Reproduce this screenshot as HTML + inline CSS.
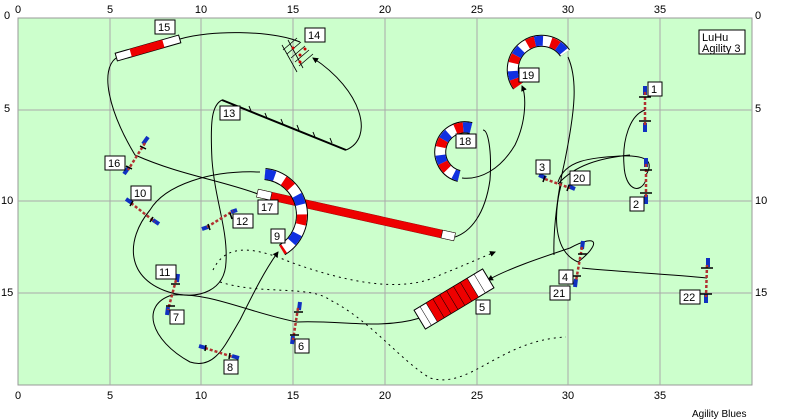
<!DOCTYPE html>
<html><head><meta charset="utf-8"><style>
body{margin:0;background:#fff;}
svg{display:block;font-family:"Liberation Sans",sans-serif;}
.lb rect{fill:#fff;stroke:#000;stroke-width:1}
.lb text{font-size:11px;fill:#000}
.ax{font-size:11px;fill:#000}
</style></head><body>
<svg width="800" height="419" viewBox="0 0 800 419">
<defs><marker id="ar" markerWidth="6" markerHeight="6" refX="5" refY="3" orient="auto"><path d="M0,0 L6,3 L0,6z" fill="#000"/></marker></defs>
<rect x="18" y="18" width="734" height="367" fill="#ccffcc" stroke="#999"/>
<g stroke="#aaa" stroke-width="1">
<line x1="110" y1="18" x2="110" y2="385"/><line x1="201" y1="18" x2="201" y2="385"/><line x1="293" y1="18" x2="293" y2="385"/><line x1="385" y1="18" x2="385" y2="385"/><line x1="477" y1="18" x2="477" y2="385"/><line x1="568" y1="18" x2="568" y2="385"/><line x1="660" y1="18" x2="660" y2="385"/>
<line x1="18" y1="110" x2="752" y2="110"/><line x1="18" y1="201" x2="752" y2="201"/><line x1="18" y1="293" x2="752" y2="293"/>
</g>
<g class="ax" text-anchor="middle">
<text x="18" y="13">0</text><text x="110" y="13">5</text><text x="201" y="13">10</text><text x="293" y="13">15</text><text x="385" y="13">20</text><text x="477" y="13">25</text><text x="568" y="13">30</text><text x="660" y="13">35</text>
<text x="18" y="399">0</text><text x="110" y="399">5</text><text x="201" y="399">10</text><text x="293" y="399">15</text><text x="385" y="399">20</text><text x="477" y="399">25</text><text x="568" y="399">30</text><text x="660" y="399">35</text>
</g>
<g class="ax"><text x="4" y="19">0</text><text x="4" y="112">5</text><text x="1" y="204">10</text><text x="1" y="296">15</text>
<text x="755" y="19">0</text><text x="755" y="112">5</text><text x="755" y="204">10</text><text x="755" y="296">15</text>
<text x="692" y="417" font-size="10">Agility Blues</text></g>

<g fill="none" stroke="#000" stroke-width="1">
<path d="M645,110 C630,115 622,140 624,165 C625,190 640,195 646,180"/>
<path d="M646,175 C655,160 645,155 620,156 C590,158 565,160 558,182" />
<path d="M562,182 C555,205 550,250 578,262"/>
<path d="M578,262 C600,245 600,232 570,248 C540,258 510,268 488,280" marker-end="url(#ar)"/>
<path d="M420,318 C380,330 340,320 297,322 C250,313 210,292 172,295"/>
<path d="M172,295 C140,305 150,340 190,362 C215,370 225,345 240,320 C255,290 265,270 278,252" marker-end="url(#ar)"/>
<path d="M260,172 C210,170 165,185 150,210 C125,240 125,280 172,293 C200,300 225,290 226,262 C228,230 215,200 212,160 C210,120 212,105 222,100"/>
<path d="M346,150 C375,138 362,90 313,58" marker-end="url(#ar)"/>
<path d="M300,42 C270,30 210,30 180,39"/>
<path d="M116,58 C100,70 108,110 135,155 C180,175 220,180 258,194"/>
<path d="M455,237 C470,232 485,215 490,180 C492,150 488,130 483,130"/>
<path d="M462,178 C480,180 500,170 515,145 C527,120 526,95 522,86" marker-end="url(#ar)"/>
<path d="M568,57 C578,80 575,110 565,160 C558,190 553,230 554,255"/>
<path d="M558,184 C575,165 600,158 630,155"/>
<path d="M582,268 C620,272 670,274 707,278"/>
</g>
<g fill="none" stroke="#000" stroke-width="1" stroke-dasharray="2,4">
<path d="M213,270 C225,245 250,245 290,262 C340,280 400,295 440,275 C465,265 485,256 495,252" marker-end="url(#ar)"/>
<path d="M220,282 C260,295 310,285 330,300 C370,320 400,360 430,378 C470,390 500,340 566,337"/>
</g>

<g transform="translate(148,48) rotate(-16)"><rect x="-33" y="-4" width="66" height="8" fill="#fff" stroke="#000"/><rect x="-18" y="-4" width="34" height="8" fill="#e00"/></g>
<g stroke="#000" stroke-width="0.8"><path d="M283,50 L297,38 M287,54 L301,42 M291,58 L305,46 M295,62 L309,50 M299,66 L313,54 M288,40 L303,68 M282,45 L297,72"/></g>
<g fill="#c00"><circle cx="293" cy="48" r="1.5"/><circle cx="300" cy="55" r="1.5"/><circle cx="305" cy="49" r="1.5"/><circle cx="300" cy="62" r="1.5"/></g>
<line x1="222" y1="100" x2="346" y2="150" stroke="#000" stroke-width="2"/>
<g stroke="#000"><path d="M249,106 l2,5 M265,113 l2,5 M281,119 l2,5 M297,125 l2,5 M313,132 l2,5 M330,138 l2,5"/></g>
<g transform="translate(356,215) rotate(12.5)"><rect x="-101" y="-4" width="202" height="8" fill="#e00" stroke="#900" stroke-width="0.5"/><rect x="-101" y="-4" width="14" height="8" fill="#fff" stroke="#000" stroke-width="0.5"/><rect x="88" y="-4" width="13" height="8" fill="#fff" stroke="#000" stroke-width="0.5"/></g>
<g fill="none">
<path d="M265,174 A41,41 0 0 1 282,250" stroke="#000" stroke-width="12"/>
<path d="M265,174 A41,41 0 0 1 282,250" stroke="#fff" stroke-width="10"/>
<path d="M265,174 A41,41 0 0 1 282,250" stroke="#1030e0" stroke-width="10" stroke-dasharray="10,30"/>
<path d="M265,174 A41,41 0 0 1 282,250" stroke="#e00" stroke-width="10" stroke-dasharray="10,30" stroke-dashoffset="-20"/>
<path d="M471,128 A22,22 0 1 0 459,176" stroke="#000" stroke-width="12"/>
<path d="M471,128 A22,22 0 1 0 459,176" stroke="#fff" stroke-width="10"/>
<path d="M471,128 A22,22 0 1 0 459,176" stroke="#1030e0" stroke-width="10" stroke-dasharray="8,16"/>
<path d="M471,128 A22,22 0 1 0 459,176" stroke="#e00" stroke-width="10" stroke-dasharray="8,16" stroke-dashoffset="-8"/>
<path d="M518,86 A26,26 0 1 1 565,53" stroke="#000" stroke-width="12"/>
<path d="M518,86 A26,26 0 1 1 565,53" stroke="#fff" stroke-width="10"/>
<path d="M518,86 A26,26 0 1 1 565,53" stroke="#e00" stroke-width="10" stroke-dasharray="8,16"/>
<path d="M518,86 A26,26 0 1 1 565,53" stroke="#1030e0" stroke-width="10" stroke-dasharray="8,16" stroke-dashoffset="-8"/>
</g>
<g transform="translate(454,299) rotate(-31)"><rect x="-40" y="-11" width="80" height="22" fill="#fff" stroke="#000"/><rect x="-26" y="-11" width="48" height="22" fill="#e00" stroke="#000" stroke-width="0.5"/><path d="M-18,-11v22M-10,-11v22M-2,-11v22M6,-11v22M14,-11v22M-33,-11v22M30,-11v22" stroke="#000" stroke-width="0.5"/></g>
<g stroke-linecap="butt">
<g stroke="#1030c0" stroke-width="4"><path d="M645,86v9M645,123v9 M646,158v9M646,195v9 M539,175l7,3M568,186l7,3 M583,241l-1,8M576,279l-1,8 M708,258v9M706,294v9 M148,137l-5,7M129,167l-5,7 M126,199l6,4M153,220l6,4 M202,229l6,-2M231,212l6,-2 M178,274l-1,8M168,307l-1,8 M300,302l-1,8M293,336l-1,8 M199,346l7,2M232,356l7,2"/></g>
<g stroke="#b03030" stroke-width="2.5" stroke-dasharray="3,2"><path d="M645,92V126 M646,164V198 M545,179L570,188 M582,247L576,281 M707,265L706,297 M145,143L128,170 M131,203L155,222 M207,227L233,211 M176,280L168,310 M298,308L293,340 M205,348L233,357"/></g>
<g stroke="#000" stroke-width="1.5"><path d="M639,97h12M639,121h12 M640,170h12M640,193h12 M545,176l-2,6M569,185l-2,6 M578,254h9M572,276h9 M701,268h12M700,294h12 M140,146l6,3M126,166l6,3 M133,201l-3,5M153,217l-3,5 M208,224l2,6M230,213l2,6 M171,284h9M166,306h9 M294,312h9M290,335h9 M206,345l-1,6M230,353l-1,6"/></g>
</g>

<g class="lb">
<rect x="155" y="20" width="20" height="14"/><text x="158" y="31">15</text>
<rect x="305" y="28" width="20" height="14"/><text x="308" y="39">14</text>
<rect x="220" y="106" width="20" height="14"/><text x="223" y="117">13</text>
<rect x="105" y="156" width="20" height="14"/><text x="108" y="167">16</text>
<rect x="131" y="186" width="20" height="14"/><text x="134" y="197">10</text>
<rect x="233" y="214" width="20" height="14"/><text x="236" y="225">12</text>
<rect x="258" y="200" width="20" height="14"/><text x="261" y="211">17</text>
<rect x="271" y="229" width="14" height="14"/><text x="274" y="240">9</text>
<rect x="156" y="265" width="20" height="14"/><text x="159" y="276">11</text>
<rect x="170" y="310" width="14" height="14"/><text x="173" y="321">7</text>
<rect x="224" y="360" width="14" height="14"/><text x="227" y="371">8</text>
<rect x="295" y="339" width="14" height="14"/><text x="298" y="350">6</text>
<rect x="476" y="300" width="14" height="14"/><text x="479" y="311">5</text>
<rect x="456" y="134" width="20" height="14"/><text x="459" y="145">18</text>
<rect x="519" y="68" width="20" height="14"/><text x="522" y="79">19</text>
<rect x="536" y="160" width="14" height="14"/><text x="539" y="171">3</text>
<rect x="570" y="171" width="20" height="14"/><text x="573" y="182">20</text>
<rect x="648" y="82" width="14" height="14"/><text x="651" y="93">1</text>
<rect x="630" y="197" width="14" height="14"/><text x="633" y="208">2</text>
<rect x="559" y="270" width="14" height="14"/><text x="562" y="281">4</text>
<rect x="550" y="286" width="20" height="14"/><text x="553" y="297">21</text>
<rect x="680" y="290" width="20" height="14"/><text x="683" y="301">22</text>
<rect x="699" y="30" width="46" height="24"/><text x="702" y="41" font-size="11">LuHu</text><text x="702" y="52" font-size="11">Agility 3</text>
</g>
</svg>
</body></html>
